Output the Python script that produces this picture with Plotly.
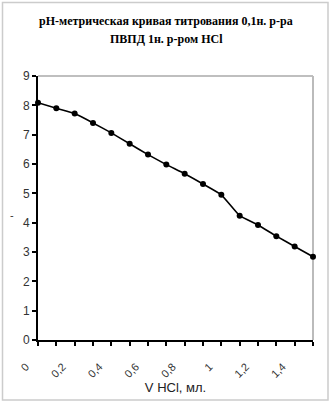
import plotly.graph_objects as go

v_hcl = [0, 0.1, 0.2, 0.3, 0.4, 0.5, 0.6, 0.7, 0.8, 0.9, 1.0, 1.1, 1.2, 1.3, 1.4, 1.5]
ph = [8.09, 7.90, 7.72, 7.40, 7.06, 6.69, 6.32, 5.98, 5.67, 5.32, 4.95, 4.24, 3.92, 3.54, 3.19, 2.84]
x_tickvals = [0, 0.2, 0.4, 0.6, 0.8, 1.0, 1.2, 1.4]
x_ticktext = ["0", "0,2", "0,4", "0,6", "0,8", "1", "1,2", "1,4"]
y_tickvals = [0, 1, 2, 3, 4, 5, 6, 7, 8, 9]
title_lines = ["pH-метрическая кривая титрования 0,1н. р-ра", "ПВПД 1н. р-ром HCl"]

W, H = 331, 403
L, R, T, B = 38, 18, 76, 63
pw, ph_ = W - L - R, H - T - B

def px(x):
    return (x - L) / pw

def py(y):
    return (H - B - y) / ph_

fig = go.Figure()
fig.add_trace(go.Scatter(
    x=v_hcl, y=ph, mode="lines+markers",
    line=dict(color="black", width=1.6, shape="spline", smoothing=0.4),
    marker=dict(color="black", size=6),
    cliponaxis=False, showlegend=False,
))

title_font = dict(family="Liberation Serif", size=12, color="black", weight="bold")
annotations = [
    dict(text=title_lines[0], x=px(166), y=py(21), xref="paper", yref="paper",
         showarrow=False, font=title_font, xanchor="center", yanchor="middle"),
    dict(text=title_lines[1], x=px(166), y=py(39), xref="paper", yref="paper",
         showarrow=False, font=title_font, xanchor="center", yanchor="middle"),
    dict(text="-", x=px(8), y=py(215), xref="paper", yref="paper", showarrow=False,
         font=dict(family="Liberation Sans", size=11, color="#333")),
]

fig.update_layout(
    width=W, height=H,
    margin=dict(l=L, r=R, t=T, b=B, autoexpand=False),
    paper_bgcolor="white", plot_bgcolor="white",
    xaxis=dict(
        range=[0, 1.5], tickvals=x_tickvals, ticktext=x_ticktext, tickangle=-45,
        showgrid=False, zeroline=False, showline=True, linecolor="black", linewidth=2,
        ticks="outside", ticklen=4, tickcolor="black", tickwidth=1.5,
        minor=dict(dtick=0.1, ticks="outside", ticklen=4, tickcolor="black", tickwidth=1.5),
        tickfont=dict(family="Liberation Sans", size=11, color="#333"),
        ticklabelshift=-12, ticklabelstandoff=10, automargin=False,
        title=dict(text="V HCl, мл.", font=dict(family="Liberation Sans", size=13, color="#222"), standoff=4),
        fixedrange=True,
    ),
    yaxis=dict(
        range=[0, 9], tickvals=y_tickvals, automargin=False,
        showgrid=False, zeroline=False, showline=True, linecolor="black", linewidth=2,
        ticks="outside", ticklen=4, tickcolor="black", tickwidth=1.5,
        tickfont=dict(family="Liberation Sans", size=12, color="#333"),
        fixedrange=True,
    ),
    shapes=[
        dict(type="line", xref="paper", yref="paper", x0=0, x1=1, y0=1, y1=1, layer="below",
             line=dict(color="#aaaaaa", width=1.5)),
        dict(type="line", xref="paper", yref="paper", x0=1, x1=1, y0=0, y1=1, layer="below",
             line=dict(color="#bbbbbb", width=2)),
        dict(type="rect", xref="paper", yref="paper", layer="below",
             x0=px(2.5), x1=px(328), y0=py(2.5), y1=py(400),
             line=dict(color="#cccccc", width=1.5)),
    ],
    annotations=annotations,
)

fig.write_html("out.html")
